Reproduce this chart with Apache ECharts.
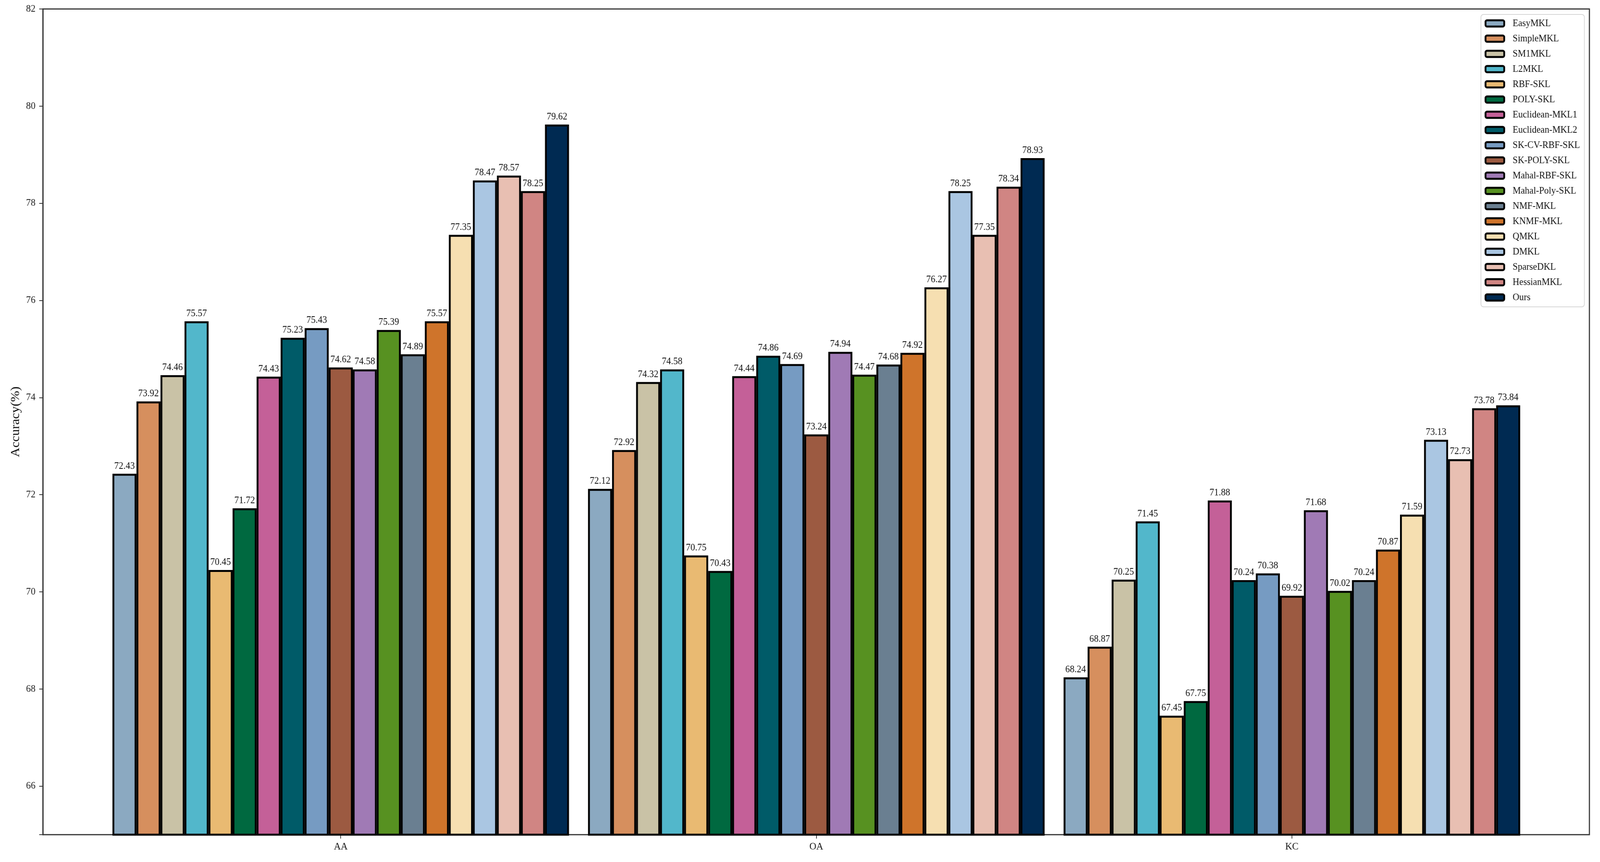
<!DOCTYPE html>
<html>
<head>
<meta charset="utf-8">
<script src="https://cdn.jsdelivr.net/npm/echarts@6/dist/echarts.min.js"></script>
<style>html,body{margin:0;padding:0;background:#fff;overflow:hidden}#c{width:4368px;height:2208px;transform-origin:0 0}</style>
</head>
<body>
<div id="c"></div>
<script>
const categories = ['AA', 'OA', 'KC'];
const methods = ['EasyMKL','SimpleMKL','SM1MKL','L2MKL','RBF-SKL','POLY-SKL','Euclidean-MKL1','Euclidean-MKL2','SK-CV-RBF-SKL','SK-POLY-SKL','Mahal-RBF-SKL','Mahal-Poly-SKL','NMF-MKL','KNMF-MKL','QMKL','DMKL','SparseDKL','HessianMKL','Ours'];
const colors = ['#8BA9C1','#D68F5E','#C9C2A6','#52B7CB','#E9BA72','#006940','#C46098','#005B68','#769BC2','#9C5A41','#A07AB5','#579121','#6A7F91','#CF742B','#F6DFB1','#AAC6E2','#E8BFB2','#D08583','#002A52'];
const valuesAA = [72.43,73.92,74.46,75.57,70.45,71.72,74.43,75.23,75.43,74.62,74.58,75.39,74.89,75.57,77.35,78.47,78.57,78.25,79.62];
const valuesOA = [72.12,72.92,74.32,74.58,70.75,70.43,74.44,74.86,74.69,73.24,74.94,74.47,74.68,74.92,76.27,78.25,77.35,78.34,78.93];
const valuesKC = [68.24,68.87,70.25,71.45,67.45,67.75,71.88,70.24,70.38,69.92,71.68,70.02,70.24,70.87,71.59,73.13,72.73,73.78,73.84];
const yMin = 65, yMax = 82;
const yTitle = 'Accuracy(%)';

// fit the 4368x2208 design into the actual viewport
const el = document.getElementById('c');
const sx = window.innerWidth / 4368, sy = window.innerHeight / 2208;
el.style.transform = 'scale(' + sx + ',' + sy + ')';

const font = 'Liberation Serif';
const chart = echarts.init(el);
const series = methods.map((m, i) => ({
  name: m,
  type: 'bar',
  xAxisIndex: 1,
  yAxisIndex: 1,
  barGap: '0%',
  barCategoryGap: '4%',
  data: [valuesAA[i], valuesOA[i], valuesKC[i]],
  itemStyle: { color: colors[i], borderColor: '#000', borderWidth: 5 },
  label: {
    show: true, position: 'top', distance: 7,
    fontFamily: font, fontSize: 25, color: '#111',
    formatter: p => p.value.toFixed(2)
  }
}));

chart.setOption({
  animation: false,
  backgroundColor: '#fff',
  grid: [
    { left: 117, right: 29, top: 23, bottom: 70, show: true, borderColor: '#333', borderWidth: 3, backgroundColor: 'transparent' },
    { left: 281, right: 192, top: 23, bottom: 70 }
  ],
  xAxis: [
    { gridIndex: 0, type: 'value', min: 0, max: 1, show: false },
    { gridIndex: 1, type: 'category', data: categories,
      axisLine: { show: false },
      axisTick: { show: true, alignWithLabel: true, length: 10, lineStyle: { color: '#333', width: 2 } },
      axisLabel: { fontFamily: font, fontSize: 26, color: '#111', margin: 18 } }
  ],
  yAxis: [
    { gridIndex: 0, type: 'value', min: yMin, max: yMax, splitNumber: 8,
      name: yTitle, nameLocation: 'middle', nameGap: 55,
      nameTextStyle: { fontFamily: font, fontSize: 34, color: '#111' },
      axisLine: { show: true, lineStyle: { color: '#333', width: 3 } },
      axisTick: { show: true, length: 10, lineStyle: { color: '#333', width: 2 } },
      axisLabel: { fontFamily: font, fontSize: 26, color: '#222', margin: 20,
        formatter: v => (v === yMin ? '' : String(v)) },
      splitLine: { show: false } },
    { gridIndex: 1, type: 'value', min: yMin, max: yMax, show: false, splitLine: { show: false } }
  ],
  legend: {
    data: methods,
    orient: 'vertical',
    left: 4043, top: 37,
    padding: [10, 12, 11, 10],
    itemWidth: 51, itemHeight: 16, itemGap: 13,
    itemStyle: { borderColor: '#000', borderWidth: 5 },
    backgroundColor: '#fff',
    borderColor: '#d6d6d6', borderWidth: 2, borderRadius: 7,
    textStyle: { fontFamily: font, fontSize: 25, color: '#111', lineHeight: 26, padding: [0, 0, 0, 18] }
  },
  series: series
});
</script>
</body>
</html>
